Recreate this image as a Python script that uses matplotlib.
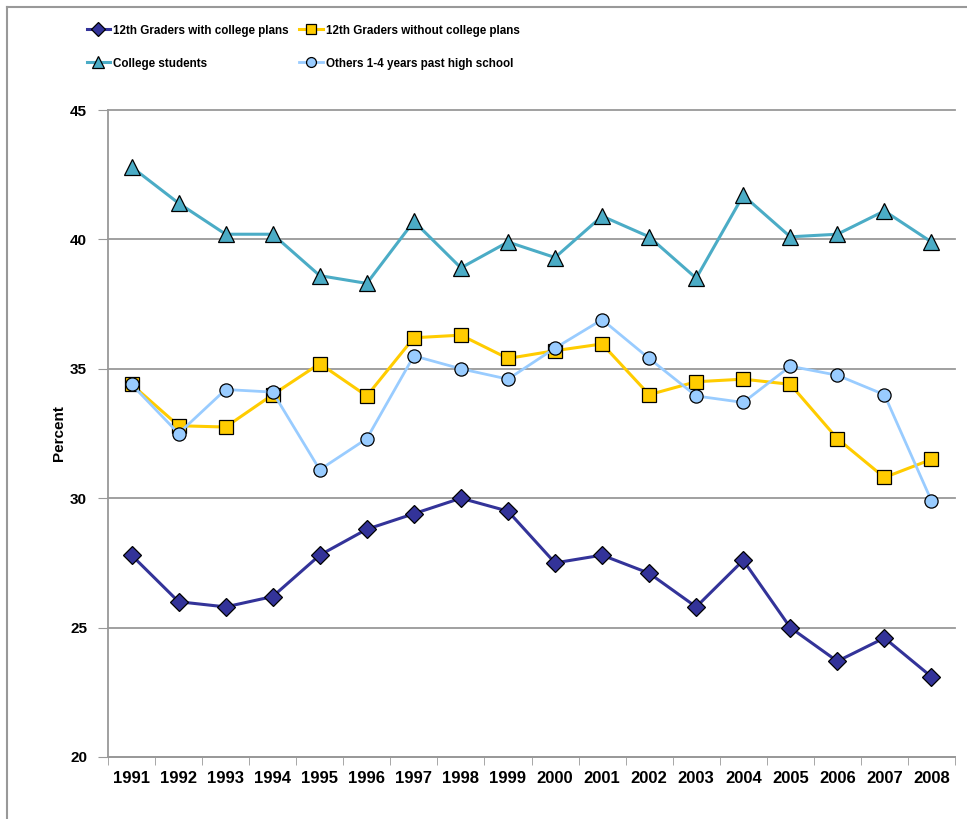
import numpy as np
import matplotlib.pyplot as plt
from matplotlib.lines import Line2D

# Data
years = [str(y) for y in range(1991, 2009)]
with_plans = [27.8, 26.0, 25.8, 26.2, 27.8, 28.8, 29.4, 30.0, 29.5,
              27.5, 27.8, 27.1, 25.8, 27.6, 25.0, 23.7, 24.6, 23.1]
without_plans = [34.4, 32.8, 32.75, 34.0, 35.2, 33.95, 36.2, 36.3, 35.4,
                 35.7, 35.96, 34.0, 34.5, 34.6, 34.4, 32.3, 30.8, 31.5]
college = [42.8, 41.4, 40.2, 40.2, 38.6, 38.3, 40.7, 38.9, 39.9,
           39.3, 40.9, 40.1, 38.5, 41.7, 40.1, 40.2, 41.1, 39.9]
others = [34.4, 32.5, 34.2, 34.1, 31.1, 32.3, 35.5, 35.0, 34.6,
          35.8, 36.9, 35.4, 33.95, 33.7, 35.1, 34.75, 34.0, 29.9]

labels = ["12th Graders with college plans", "12th Graders without college plans",
          "College students", "Others 1-4 years past high school"]

plt.rcParams['font.family'] = ['Liberation Sans', 'DejaVu Sans']

fig = plt.figure(figsize=(9.67, 8.19), dpi=100)
ax = fig.add_axes([108 / 967, 1 - 757 / 819, (955 - 108) / 967, (757 - 110) / 819])

x = np.arange(len(years))
l1, = ax.plot(x, with_plans, color='#333399', lw=2.2, marker='D', ms=9.2,
              mfc='#333399', mec='black', mew=0.9, zorder=3)
l2, = ax.plot(x, without_plans, color='#FFCC00', lw=2.2, marker='s', ms=10,
              mfc='#FFCC00', mec='black', mew=0.9, zorder=3)
l3, = ax.plot(x, college, color='#4BACC6', lw=2.2, marker='^', ms=11,
              mfc='#4BACC6', mec='black', mew=0.9, zorder=3)
l4, = ax.plot(x, others, color='#99CCFF', lw=2.0, marker='o', ms=9.5,
              mfc='#99CCFF', mec='black', mew=0.9, zorder=3)

ax.set_xlim(-0.5, len(years) - 0.5)
ax.set_ylim(20, 45)
ax.set_yticks(range(20, 46, 5))
ax.set_xticks(x)
ax.set_xticklabels(years, fontsize=12, fontweight='bold')
ax.set_xticks(np.arange(len(years) + 1) - 0.5, minor=True)
ax.tick_params(axis='x', which='major', length=0, pad=10)
ax.tick_params(axis='x', which='minor', length=6, color='#999999', direction='out')
ax.tick_params(axis='y', length=7, color='#999999', direction='out', pad=8)
for t in ax.get_yticklabels():
    t.set_fontsize(11)
    t.set_fontweight('bold')

ax.grid(axis='y', color='#999999', lw=1.3, zorder=1)
for g in ax.get_ygridlines():
    g.set_clip_on(False)
for s in ['top', 'right']:
    ax.spines[s].set_visible(False)
for s in ['left', 'bottom']:
    ax.spines[s].set_color('#999999')
    ax.spines[s].set_linewidth(1.3)

ax.set_ylabel("Percent", fontsize=11, fontweight='bold', labelpad=3)

# row-major order: legend fills columns first
fig.legend([l1, l3, l2, l4], [labels[0], labels[2], labels[1], labels[3]],
           ncol=2, loc='upper left',
           bbox_to_anchor=(76 / 967, 1 - 14 / 819), frameon=False,
           prop={'weight': 'bold', 'size': 8.4},
           handlelength=2.0, handletextpad=0.3, columnspacing=0.9,
           labelspacing=1.8, markerscale=0.75)

# outer chart border
fig.add_artist(Line2D([7 / 967, 7 / 967], [0, 1 - 7 / 819], color='#999999', lw=1.5))
fig.add_artist(Line2D([7 / 967, 1], [1 - 7 / 819, 1 - 7 / 819], color='#999999', lw=1.5))

fig.savefig('out.png', dpi=100)
